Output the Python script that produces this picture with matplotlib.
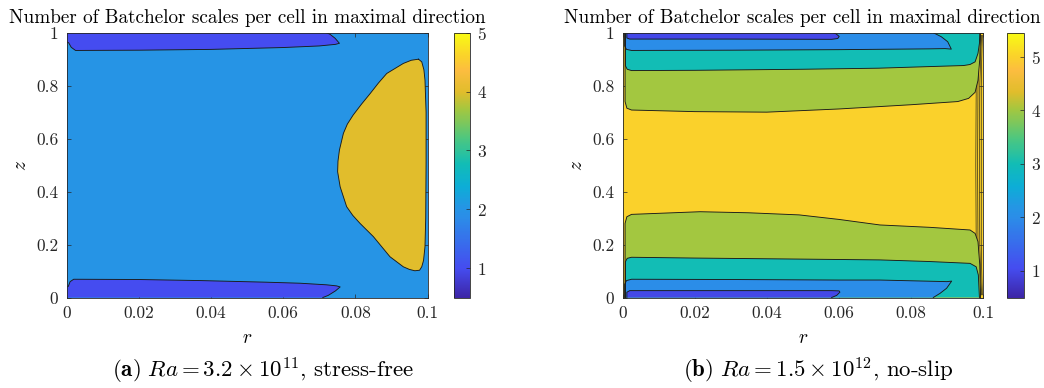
import matplotlib
matplotlib.use("Agg")
import matplotlib.pyplot as plt
import numpy as np
from matplotlib.colors import LinearSegmentedColormap, Normalize
from matplotlib.cm import ScalarMappable

plt.rcParams['font.family'] = 'cmr10'
plt.rcParams['mathtext.fontset'] = 'cm'
plt.rcParams['axes.unicode_minus'] = False
plt.rcParams['axes.formatter.use_mathtext'] = True

# parula-like colormap (anchors)
parula_pos = [0.0, 0.11, 0.30, 0.333, 0.42, 0.505, 0.60, 0.71, 0.778, 0.86, 0.91, 1.0]
parula_rgb = [(0.24, 0.15, 0.66), (0.27, 0.30, 0.94), (0.17, 0.55, 0.91), (0.15, 0.58, 0.90),
              (0.05, 0.68, 0.84), (0.07, 0.74, 0.71), (0.30, 0.78, 0.50), (0.64, 0.78, 0.25),
              (0.88, 0.74, 0.17), (0.99, 0.74, 0.25), (0.98, 0.82, 0.17), (0.976, 0.984, 0.08)]
parula = LinearSegmentedColormap.from_list('parula', list(zip(parula_pos, parula_rgb)))

clim_a = (0.5, 5.0)
clim_b = (0.5, 5.45)
cbar_ticks = [1, 2, 3, 4, 5]

# ---- (a) stress-free: contour regions (r, z)
a_background = 2
a_top_level = 1
a_top_r = [0.0, 0.0, 0.0006, 0.0013, 0.0025, 0.02, 0.04, 0.06, 0.07, 0.0745, 0.0756, 0.0744, 0.0730, 0.0720]
a_top_z = [1.0, 0.965, 0.962, 0.945, 0.933, 0.934, 0.937, 0.944, 0.950, 0.956, 0.960, 0.979, 0.994, 1.0]
a_bot_level = 1
a_bot_r = [0.0, 0.0, 0.0005, 0.0010, 0.0020, 0.02, 0.037, 0.055, 0.0647, 0.0720, 0.0748, 0.0758, 0.0745, 0.0725, 0.0710]
a_bot_z = [0.0, 0.040, 0.042, 0.060, 0.069, 0.068, 0.064, 0.058, 0.054, 0.048, 0.044, 0.040, 0.025, 0.008, 0.0]
a_blob_level = 4
a_blob_r = [0.0975, 0.0955, 0.0933, 0.0887, 0.0864, 0.0841, 0.0817, 0.0794, 0.0778, 0.0767, 0.0756, 0.0752,
            0.0751, 0.0758, 0.0776, 0.0793, 0.0813, 0.0850, 0.0873, 0.0896, 0.0933, 0.0950, 0.0965,
            0.0978, 0.0984, 0.0989, 0.0993, 0.0995, 0.0996, 0.0996, 0.0993, 0.0990, 0.0984, 0.0975]
a_blob_z = [0.900, 0.896, 0.884, 0.846, 0.810, 0.770, 0.730, 0.689, 0.655, 0.620, 0.557, 0.515,
            0.475, 0.418, 0.343, 0.310, 0.280, 0.230, 0.192, 0.154, 0.116, 0.106, 0.101,
            0.103, 0.116, 0.140, 0.192, 0.300, 0.508, 0.700, 0.821, 0.860, 0.890, 0.900]

# ---- (b) no-slip
b_background = 5
b_green_top_r = [0.0007, 0.0007, 0.0012, 0.0025, 0.02, 0.04, 0.06, 0.08, 0.093, 0.0960, 0.0978, 0.0986, 0.0991, 0.0993]
b_green_top_z = [1.0, 0.74, 0.715, 0.708, 0.702, 0.700, 0.712, 0.728, 0.740, 0.752, 0.775, 0.82, 0.90, 1.0]
b_teal_top_r = [0.0008, 0.0008, 0.0013, 0.0025, 0.02, 0.05, 0.071, 0.085, 0.0946, 0.0964, 0.0978, 0.0986, 0.0990, 0.0991]
b_teal_top_z = [1.0, 0.875, 0.862, 0.857, 0.858, 0.862, 0.866, 0.872, 0.876, 0.880, 0.890, 0.922, 0.96, 1.0]
b_blue_top_r = [0.0006, 0.0006, 0.0011, 0.0025, 0.03, 0.06, 0.085, 0.0895, 0.0912, 0.0902, 0.0884, 0.0862]
b_blue_top_z = [1.0, 0.950, 0.937, 0.933, 0.934, 0.936, 0.939, 0.940, 0.938, 0.966, 0.985, 1.0]
b_dark_top_r = [0.0012, 0.0012, 0.002, 0.03, 0.058, 0.0597, 0.0601, 0.0592, 0.0583]
b_dark_top_z = [1.0, 0.980, 0.976, 0.976, 0.975, 0.978, 0.986, 0.996, 1.0]

b_green_bot_r = [0.0007, 0.0007, 0.0012, 0.0025, 0.0215, 0.035, 0.049, 0.06, 0.0714, 0.0853, 0.0964, 0.0978, 0.0986, 0.0991, 0.0993]
b_green_bot_z = [0.0, 0.28, 0.305, 0.314, 0.324, 0.320, 0.312, 0.295, 0.274, 0.265, 0.255, 0.242, 0.211, 0.123, 0.0]
b_teal_bot_r = [0.0008, 0.0008, 0.0013, 0.0025, 0.02, 0.05, 0.0714, 0.085, 0.0964, 0.0981, 0.0987, 0.0990]
b_teal_bot_z = [0.0, 0.135, 0.148, 0.152, 0.149, 0.145, 0.142, 0.136, 0.129, 0.116, 0.085, 0.0]
b_blue_bot_r = [0.0006, 0.0006, 0.0011, 0.0025, 0.03, 0.06, 0.0714, 0.0900, 0.0913, 0.0899, 0.0881, 0.0862]
b_blue_bot_z = [0.0, 0.050, 0.064, 0.069, 0.068, 0.066, 0.066, 0.060, 0.062, 0.035, 0.016, 0.0]
b_dark_bot_r = [0.0012, 0.0012, 0.002, 0.03, 0.058, 0.0601, 0.0603, 0.0594, 0.0580]
b_dark_bot_z = [0.0, 0.020, 0.026, 0.026, 0.026, 0.025, 0.020, 0.008, 0.0]

b_regions = [(4, b_green_top_r, b_green_top_z), (3, b_teal_top_r, b_teal_top_z),
             (2, b_blue_top_r, b_blue_top_z), (1, b_dark_top_r, b_dark_top_z),
             (4, b_green_bot_r, b_green_bot_z), (3, b_teal_bot_r, b_teal_bot_z),
             (2, b_blue_bot_r, b_blue_bot_z), (1, b_dark_bot_r, b_dark_bot_z)]

# thin contour lines squeezed against the outer wall in (b)
b_wall_z = [0.01, 0.06, 0.2, 0.5, 0.8, 0.94, 0.99]
b_wall_r = [[0.0992, 0.0986, 0.0981, 0.0980, 0.0981, 0.0986, 0.0992],
            [0.0994, 0.0990, 0.0986, 0.0985, 0.0986, 0.0990, 0.0994],
            [0.0996, 0.0994, 0.0991, 0.0990, 0.0991, 0.0994, 0.0996],
            [0.0998, 0.0997, 0.0995, 0.0995, 0.0995, 0.0997, 0.0998]]

title = 'Number of Batchelor scales per cell in maximal direction'
xticks = [0, 0.02, 0.04, 0.06, 0.08, 0.1]
yticks = [0, 0.2, 0.4, 0.6, 0.8, 1]

edge = (0.1, 0.1, 0.1)
frame = (0.15, 0.15, 0.15)


def region(ax, norm, level, r, z):
    ax.fill(r, z, facecolor=parula(norm(level)), edgecolor='none', zorder=2)
    ax.plot(r, z, color=edge, lw=0.65, zorder=3)


def style(ax, cax, norm):
    ax.set_xlim(0, 0.1)
    ax.set_ylim(0, 1)
    ax.set_xticks(xticks)
    ax.set_xticklabels(['0', '0.02', '0.04', '0.06', '0.08', '0.1'])
    ax.set_yticks(yticks)
    ax.set_yticklabels(['0', '0.2', '0.4', '0.6', '0.8', '1'])
    ax.tick_params(direction='in', length=3, width=0.5, top=True, right=True,
                   labelsize=12.5, colors=frame, labelcolor=(0.15, 0.15, 0.15), pad=6)
    for s in ax.spines.values():
        s.set_color(frame)
        s.set_linewidth(0.6)
        s.set_zorder(5)
    ax.set_xlabel('$r$', fontsize=14, labelpad=6)
    ax.set_ylabel('$z$', fontsize=14, labelpad=4)
    ax.set_title(title, fontsize=13.8, pad=7)
    cb = plt.colorbar(ScalarMappable(norm=norm, cmap=parula), cax=cax)
    cb.set_ticks(cbar_ticks)
    cb.ax.tick_params(direction='in', length=3, width=0.5, labelsize=12.5, colors=frame,
                      labelcolor=(0.15, 0.15, 0.15), pad=5)
    cb.outline.set_edgecolor(frame)
    cb.outline.set_linewidth(0.6)


fig = plt.figure(figsize=(10.44, 3.88), dpi=100)
ax_a = fig.add_axes([0.0637, 0.2332, 0.3458, 0.6825])
cax_a = fig.add_axes([0.4352, 0.2332, 0.0153, 0.6825])
ax_b = fig.add_axes([0.5963, 0.2332, 0.3453, 0.6825])
cax_b = fig.add_axes([0.9648, 0.2332, 0.0163, 0.6825])

norm_a = Normalize(*clim_a)
ax_a.set_facecolor(parula(norm_a(a_background)))
region(ax_a, norm_a, a_top_level, a_top_r, a_top_z)
region(ax_a, norm_a, a_bot_level, a_bot_r, a_bot_z)
region(ax_a, norm_a, a_blob_level, a_blob_r, a_blob_z)
style(ax_a, cax_a, norm_a)

norm_b = Normalize(*clim_b)
ax_b.set_facecolor(parula(norm_b(b_background)))
for r in b_wall_r:
    ax_b.plot(r, b_wall_z, color=edge, lw=0.45, zorder=1.5)
for level, r, z in b_regions:
    region(ax_b, norm_b, level, r, z)
style(ax_b, cax_b, norm_b)

fig.text(0.252, 0.026, r'$\mathbf{(a)}\ Ra = 3.2 \times 10^{11}$, stress-free', fontsize=16.5,
         ha='center', va='baseline')
fig.text(0.784, 0.026, r'$\mathbf{(b)}\ Ra = 1.5 \times 10^{12}$, no-slip', fontsize=16.5,
         ha='center', va='baseline')

fig.savefig('out.png', dpi=100)
